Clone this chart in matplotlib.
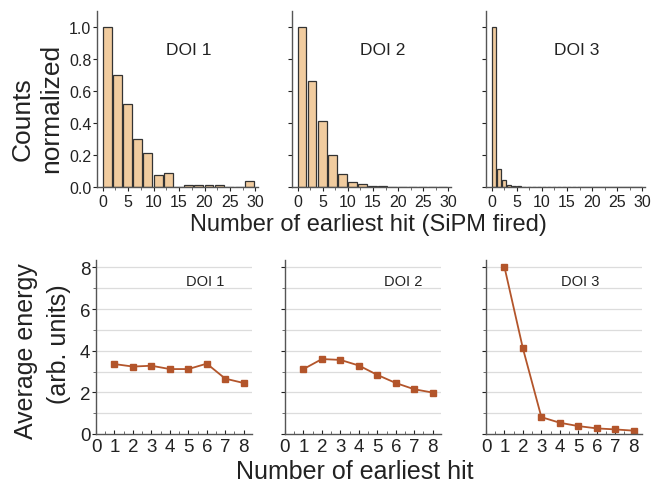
import numpy as np
import matplotlib.pyplot as plt
from matplotlib.ticker import MultipleLocator

plt.rcParams['font.family'] = ['Liberation Sans', 'DejaVu Sans']

# histogram data: normalized counts of the earliest hit index
bins_wide = np.arange(0, 30, 2)      # DOI 1 and DOI 2 use 2-wide bins
bins_narrow = np.arange(0, 30, 1)    # DOI 3 uses 1-wide bins
doi1_counts = [1.0, 0.70, 0.52, 0.30, 0.215, 0.073, 0.09, 0.0,
               0.015, 0.015, 0.015, 0.015, 0.0, 0.0, 0.035]
doi2_counts = [1.0, 0.665, 0.41, 0.20, 0.083, 0.033, 0.017, 0.006,
               0.004, 0.003, 0.002, 0.002, 0.002, 0.002, 0.0]
doi3_counts = [1.0, 0.11, 0.044, 0.015, 0.007, 0.004, 0.003, 0.003,
               0.003, 0.002, 0.002, 0.002, 0.002, 0.002, 0.002, 0.002,
               0.002, 0.002, 0.002, 0.002, 0.002, 0.002, 0.002, 0.002,
               0.002, 0.002, 0.002, 0.002, 0.0, 0.0]

# average energy vs. earliest hit number
hit_number = [1, 2, 3, 4, 5, 6, 7, 8]
energy_doi1 = [3.36, 3.24, 3.28, 3.12, 3.12, 3.38, 2.66, 2.45]
energy_doi2 = [3.12, 3.60, 3.56, 3.29, 2.84, 2.45, 2.15, 1.99]
energy_doi3 = [8.02, 4.11, 0.81, 0.54, 0.38, 0.27, 0.22, 0.16]

labels = ['DOI 1', 'DOI 2', 'DOI 3']
bar_color = '#f1cc9f'
line_color = '#b3552b'
axis_color = '#555555'

fig = plt.figure(figsize=(6.54, 4.89), dpi=100)
W, H = 654, 489


def add_ax(x0, y0, x1, y1):
    return fig.add_axes([x0 / W, 1 - y1 / H, (x1 - x0) / W, (y1 - y0) / H])


def style(ax):
    for s in ['top', 'right']:
        ax.spines[s].set_visible(False)
    for s in ['left', 'bottom']:
        ax.spines[s].set_color(axis_color)
        ax.spines[s].set_linewidth(1.0)
    ax.tick_params(colors='#222222', labelsize=10, length=3, width=0.8,
                   pad=1, labelcolor='#222222')
    ax.tick_params(which='minor', length=2, width=0.6, colors=axis_color)


# top row: histograms
top_boxes = [(97, 12, 258, 188), (292, 12, 451, 188), (486, 12, 645, 188)]
top_data = [(bins_wide, doi1_counts, 2), (bins_wide, doi2_counts, 2),
            (bins_narrow, doi3_counts, 1)]
for i, (box, (edges, counts, w)) in enumerate(zip(top_boxes, top_data)):
    ax = add_ax(*box)
    ax.bar(edges, counts, width=w * 0.88, align='edge', color=bar_color,
           edgecolor='#333333', linewidth=0.9)
    ax.set_xlim(-1.1, 30.5)
    ax.set_ylim(0, 1.1)
    ax.set_xticks(np.arange(0, 31, 5))
    ax.xaxis.set_minor_locator(MultipleLocator(2.5))
    ax.set_yticks(np.arange(0, 1.01, 0.2))
    style(ax)
    ax.tick_params(axis='x', labelsize=11.5, pad=2)
    ax.tick_params(axis='y', labelsize=11.5)
    if i == 0:
        ax.set_yticklabels(['0.0', '0.2', '0.4', '0.6', '0.8', '1.0'])
    else:
        ax.set_yticklabels([])
    ax.text(17, 0.86, labels[i], fontsize=12.5, ha='center', va='center',
            color='#222222')

fig.text(23 / W, 1 - 119 / H, 'Counts', rotation=90, fontsize=19,
         ha='center', va='center', color='#222222')
fig.text(51 / W, 1 - 108 / H, 'normalized', rotation=90, fontsize=19,
         ha='center', va='center', color='#222222')
fig.text(368 / W, 1 - 225 / H, 'Number of earliest hit (SiPM fired)',
         fontsize=17, ha='center', va='center', color='#222222')

# bottom row: average energy
bot_boxes = [(96, 261, 252, 435), (285, 261, 441, 435), (486, 261, 642, 435)]
bot_data = [energy_doi1, energy_doi2, energy_doi3]
text_x = [5.9, 6.4, 5.1]
for i, (box, energy) in enumerate(zip(bot_boxes, bot_data)):
    ax = add_ax(*box)
    ax.set_xlim(0, 8.45)
    ax.set_ylim(0, 8.36)
    for yv in range(1, 9):
        ax.axhline(yv, color='#dcdcdc', linewidth=0.9, zorder=0)
    ax.plot(hit_number, energy, color=line_color, linewidth=1.3,
            marker='s', markersize=5, markerfacecolor=line_color,
            markeredgecolor=line_color)
    ax.set_xticks(range(0, 9))
    ax.xaxis.set_minor_locator(MultipleLocator(0.5))
    ax.set_yticks([0, 2, 4, 6, 8])
    ax.yaxis.set_minor_locator(MultipleLocator(1))
    style(ax)
    ax.tick_params(axis='x', labelsize=13.5, direction='in', pad=3)
    ax.tick_params(axis='x', which='minor', direction='in')
    ax.tick_params(axis='y', labelsize=13.5)
    if i > 0:
        ax.set_yticklabels([])
    ax.text(text_x[i], 7.35, labels[i], fontsize=10.5, ha='center',
            va='center', color='#222222')

fig.text(26 / W, 1 - 351 / H, 'Average energy', rotation=90, fontsize=18,
         ha='center', va='center', color='#222222')
fig.text(59 / W, 1 - 344 / H, '(arb. units)', rotation=90, fontsize=18,
         ha='center', va='center', color='#222222')
fig.text(355 / W, 1 - 472 / H, 'Number of earliest hit', fontsize=18,
         ha='center', va='center', color='#222222')

fig.savefig('out.png', dpi=100)
